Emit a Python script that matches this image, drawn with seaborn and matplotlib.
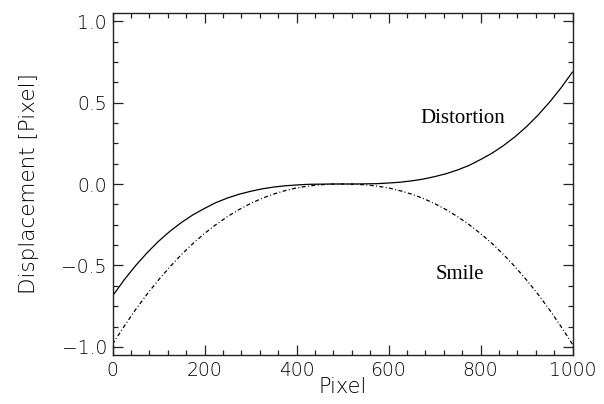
import matplotlib
matplotlib.use("Agg")
import matplotlib.pyplot as plt
from matplotlib.ticker import MultipleLocator, FuncFormatter
import seaborn as sns
import pandas as pd

# Data
pixel = [0, 25, 50, 75, 100, 125, 150, 175, 200, 225, 250, 275, 300, 325, 350, 375, 400, 425, 450, 475, 500,
         525, 550, 575, 600, 625, 650, 675, 700, 725, 750, 775, 800, 825, 850, 875, 900, 925, 950, 975, 1000]
distortion = [-0.688, -0.590, -0.502, -0.423, -0.352, -0.290, -0.236, -0.189, -0.150, -0.114, -0.086,
              -0.063, -0.045, -0.030, -0.019, -0.011, -0.006, -0.002, -0.001, 0.000, 0.000,
              0.000, 0.001, 0.002, 0.006, 0.011, 0.019, 0.030, 0.045, 0.063, 0.086,
              0.114, 0.150, 0.189, 0.236, 0.290, 0.352, 0.423, 0.502, 0.590, 0.688]
smile = [-0.984, -0.875, -0.772, -0.677, -0.589, -0.508, -0.433, -0.365, -0.304, -0.249, -0.200,
         -0.157, -0.120, -0.088, -0.062, -0.041, -0.024, -0.013, -0.005, -0.001, 0.000,
         -0.001, -0.005, -0.013, -0.024, -0.041, -0.062, -0.088, -0.120, -0.157, -0.200,
         -0.249, -0.304, -0.365, -0.433, -0.508, -0.589, -0.677, -0.772, -0.875, -0.984]
curve_labels = ["Distortion", "Smile"]
x_ticks = [0, 200, 400, 600, 800, 1000]
y_ticks = [-1.0, -0.5, 0.0, 0.5, 1.0]

sns.set_style("ticks")
plt.rcParams["font.family"] = ["DejaVu Sans"]
plt.rcParams["text.color"] = "black"
plt.rcParams["axes.labelcolor"] = "black"
plt.rcParams["xtick.color"] = "#222222"
plt.rcParams["ytick.color"] = "#222222"
plt.rcParams["xtick.labelcolor"] = "black"
plt.rcParams["ytick.labelcolor"] = "black"

df = pd.DataFrame({"Pixel": pixel, "Distortion": distortion, "Smile": smile})

fig = plt.figure(figsize=(6.04, 4.04), dpi=100)
ax = fig.add_axes([112.5 / 604, 49 / 404, 460 / 604, 342 / 404])

sns.lineplot(data=df, x="Pixel", y="Distortion", ax=ax, color="black", lw=0.9)
sns.lineplot(data=df, x="Pixel", y="Smile", ax=ax, color="black", lw=0.9,
             linestyle=(0, (3.2, 1.9, 0.8, 1.9)))

ax.set_xlim(0, 1000)
ax.set_ylim(-1.05, 1.05)
ax.set_xticks(x_ticks)
ax.set_yticks(y_ticks)
ax.yaxis.set_major_formatter(FuncFormatter(lambda v, p: f"{v:.1f}".replace("-", "\u2212")))
ax.xaxis.set_minor_locator(MultipleLocator(40))
ax.yaxis.set_minor_locator(MultipleLocator(0.125))

ax.tick_params(which="both", direction="in", top=True, right=True, width=0.9)
ax.tick_params(which="major", length=7, pad=4, labelsize=13.5)
ax.tick_params(which="minor", length=3.6)
for lab in ax.get_xticklabels() + ax.get_yticklabels():
    lab.set_fontweight(200)
for sp in ax.spines.values():
    sp.set_visible(True)
    sp.set_color("#222222")
    sp.set_linewidth(1.0)

ax.set_xlabel("Pixel", fontsize=15, fontweight=200, labelpad=-2)
ax.set_ylabel("Displacement [Pixel]", fontsize=15.5, fontweight=200, labelpad=16)

ax.text(762, 0.377, curve_labels[0], family="Liberation Serif", fontsize=15,
        ha="center", va="baseline")
ax.text(755, -0.586, curve_labels[1], family="Liberation Serif", fontsize=15,
        ha="center", va="baseline")

fig.savefig("out.png", dpi=100)
